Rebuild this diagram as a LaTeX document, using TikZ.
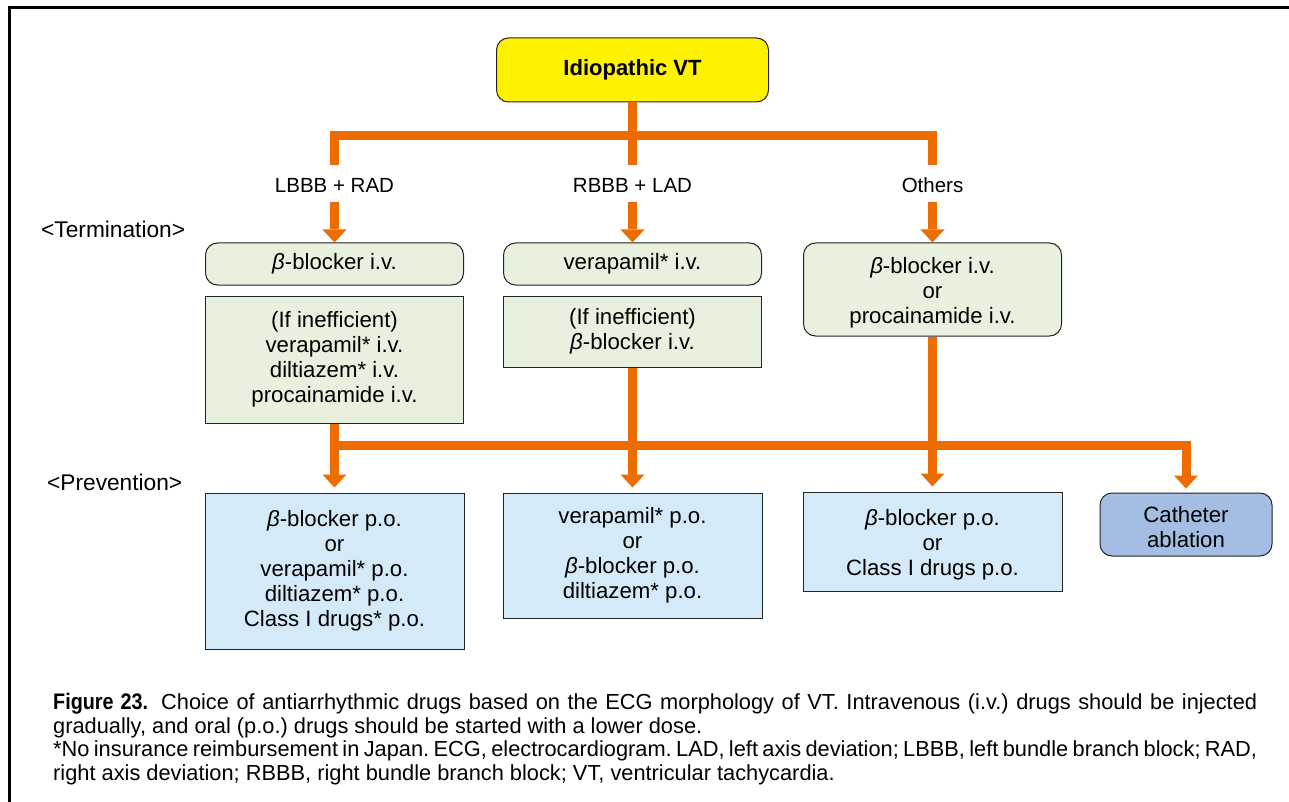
\documentclass[tikz,border=0pt]{standalone}
\usepackage{fontspec}
\setmainfont{Liberation Sans}
\newfontfamily\condsans[FakeStretch=0.88]{Liberation Sans}
\usetikzlibrary{arrows.meta,calc}

\definecolor{flow}{RGB}{236,108,0}
\definecolor{vtfill}{RGB}{255,242,0}
\definecolor{termfill}{RGB}{232,241,221}
\definecolor{prevfill}{RGB}{213,234,248}
\definecolor{ablfill}{RGB}{164,190,227}
\definecolor{boxline}{RGB}{35,35,35}

% taller first line, pushes the text block a little lower in its box
\newcommand{\topstrut}{\rule{0pt}{22pt}}

\begin{document}
\begin{tikzpicture}[x=1pt,y=-1pt,
  box/.style={draw=boxline, line width=1pt, align=center, inner sep=0pt,
    font=\fontsize{22.2}{25}\selectfont},
  termbox/.style={box, fill=termfill, minimum width=258pt},
  prevbox/.style={box, fill=prevfill, minimum width=259pt},
  roundbox/.style={rounded corners=12pt},
  tag/.style={inner sep=0pt, font=\fontsize{20.5}{24}\selectfont},
  phase/.style={inner sep=0pt, anchor=west, font=\fontsize{22.7}{26}\selectfont},
  flowline/.style={draw=flow, line width=9pt},
  flowarrow/.style={flowline,
    -{Triangle[length=13pt 0 0, width=24pt 0 0, line width=0pt]}},
]
\useasboundingbox (0,0) rectangle (1289,802);

% frame
\draw[line width=2.5pt] (9.5,802) -- (9.5,7.5) -- (1289,7.5);

% root
\node[box, roundbox, fill=vtfill, minimum width=272pt, minimum height=64pt,
      font=\fontsize{22}{26}\selectfont\bfseries] (vt) at (632.5,70) {Idiopathic VT};

% morphology branches
\coordinate (hub) at (632.5,136);
\node[tag] (k1) at (334.5,185) {LBBB + RAD};
\node[tag] (k2) at (632.5,185) {RBBB + LAD};
\node[tag] (k3) at (932.5,185) {Others};

\draw[flowline] (vt.south) -- ($(k2)+(0,-20)$);
\draw[flowline] ($(k1)+(0,-20)$) |- (hub) -| ($(k3)+(0,-20)$);

% termination
\node[phase] (term) at (41,229) {<Termination>};
\node[termbox, roundbox, minimum height=42pt] (t1) at (334.5,264) {\textit{β}-blocker i.v.};
\node[termbox, roundbox, minimum height=42pt] (t2) at (632.5,264) {verapamil* i.v.};
\node[termbox, roundbox, minimum height=93pt] (t3) at (932.5,289.5)
  {\topstrut\textit{β}-blocker i.v.\\or\\procainamide i.v.};
\node[termbox, minimum height=127pt] (u1) at (334.5,359.5)
  {(If inefficient)\\verapamil* i.v.\\diltiazem* i.v.\\procainamide i.v.};
\node[termbox, minimum height=71pt] (u2) at (632.5,331.5)
  {(If inefficient)\\\textit{β}-blocker i.v.};

\draw[flowarrow] ($(k1)+(0,17)$) -- (t1.north);
\draw[flowarrow] ($(k2)+(0,17)$) -- (t2.north);
\draw[flowarrow] ($(k3)+(0,17)$) -- (t3.north);

% prevention
\node[phase] (prev) at (47,482) {<Prevention>};
\node[prevbox, minimum height=156pt] (p1) at (334.5,571)
  {\textit{β}-blocker p.o.\\or\\verapamil* p.o.\\diltiazem* p.o.\\Class I drugs* p.o.};
\node[prevbox, minimum height=125pt] (p2) at (632.5,555.5)
  {verapamil* p.o.\\or\\\textit{β}-blocker p.o.\\diltiazem* p.o.};
\node[prevbox, minimum height=99pt] (p3) at (932.5,541.5)
  {\topstrut\textit{β}-blocker p.o.\\or\\Class I drugs p.o.};
\node[box, roundbox, fill=ablfill, minimum width=172pt, minimum height=63pt] (p4)
  at (1186,524.5) {\topstrut Catheter\\ablation};

\coordinate (rail) at (334.5,445);
\draw[flowarrow, shorten >=5pt] (u1.south) -- (p1.north);
\draw[flowarrow, shorten >=5pt] (u2.south) -- (p2.north);
\draw[flowarrow, shorten >=5pt] (t3.south) -- (p3.north);
\draw[flowarrow, shorten >=4pt] (rail) -| (p4.north);

% caption
\node[anchor=north west, inner sep=0pt, text width=1204pt, align=justify,
      font=\fontsize{21.8}{23.5}\selectfont] (cap) at (53,693)
  {\frenchspacing{\condsans\bfseries\fontsize{22.5}{23.5}\selectfont Figure 23.}\hspace{0.6em}Choice of antiarrhythmic drugs based on the ECG morphology of VT. Intravenous (i.v.) drugs should be injected\linebreak
   gradually, and oral (p.o.) drugs should be started with a lower dose.\par
   *No insurance reimbursement in Japan. ECG, electrocardiogram. LAD, left axis deviation; LBBB, left bundle branch block; RAD,\linebreak
   right axis deviation; RBBB, right bundle branch block; VT, ventricular tachycardia.};
\end{tikzpicture}
\end{document}
